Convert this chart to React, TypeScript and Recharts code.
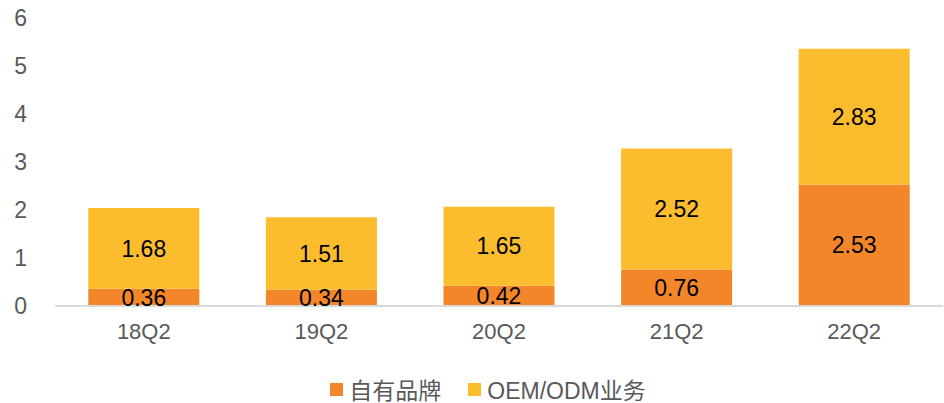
import React from "react";
import { BarChart, Bar, XAxis, YAxis, Legend, LabelList } from "recharts";

const quarters = ["18Q2", "19Q2", "20Q2", "21Q2", "22Q2"];
const ownBrand = [0.36, 0.34, 0.42, 0.76, 2.53];
const oemOdm = [1.68, 1.51, 1.65, 2.52, 2.83];
const yTicks = [0, 1, 2, 3, 4, 5, 6];

const data = quarters.map((q, i) => ({ quarter: q, own: ownBrand[i], oem: oemOdm[i] }));

const FONT = "'Liberation Sans', Arial, 'Noto Sans CJK SC', sans-serif";
const ORANGE = "#F4862A";
const YELLOW = "#FBBD2D";

const YTick = (props: any) => {
  const { y, payload } = props;
  return (
    <text x={27} y={y} dy={8} textAnchor="end" fill="#595959" fontSize={23} fontFamily={FONT}>
      {payload.value}
    </text>
  );
};

const LegendContent = () => {
  const items = [
    { label: "自有品牌", color: ORANGE },
    { label: "OEM/ODM业务", color: YELLOW },
  ];
  return (
    <div
      style={{
        display: "flex",
        justifyContent: "center",
        gap: 27,
        paddingLeft: 33,
        paddingTop: 16,
        fontFamily: FONT,
        fontSize: 23,
        color: "#595959",
      }}
    >
      {items.map((it) => (
        <div key={it.label} style={{ display: "flex", alignItems: "center" }}>
          <span style={{ width: 13, height: 13, background: it.color, display: "inline-block", marginRight: 6 }} />
          <span>{it.label}</span>
        </div>
      ))}
    </div>
  );
};

export default function App() {
  return (
    <div style={{ position: "absolute", left: 0, top: 0, background: "#fff" }}>
      <BarChart
        width={944}
        height={403}
        data={data}
        margin={{ top: 18, right: 1, left: 0, bottom: 0 }}
        barCategoryGap="18.75%"
      >
        <XAxis
          dataKey="quarter"
          axisLine={{ stroke: "#D9D9D9", strokeWidth: 2 }}
          tickLine={false}
          height={50}
          tick={{ fill: "#595959", fontSize: 22, fontFamily: FONT }}
          tickMargin={11}
        />
        <YAxis
          width={55}
          domain={[0, 6]}
          ticks={yTicks}
          axisLine={false}
          tickLine={false}
          tick={<YTick />}
        />
        <Legend verticalAlign="bottom" height={47} content={<LegendContent />} />
        <Bar dataKey="own" name="自有品牌" stackId="a" fill={ORANGE} isAnimationActive={false}>
          <LabelList dataKey="own" position="center" fill="#000" fontSize={23} fontFamily={FONT} />
        </Bar>
        <Bar dataKey="oem" name="OEM/ODM业务" stackId="a" fill={YELLOW} isAnimationActive={false}>
          <LabelList dataKey="oem" position="center" fill="#000" fontSize={23} fontFamily={FONT} />
        </Bar>
      </BarChart>
    </div>
  );
}
